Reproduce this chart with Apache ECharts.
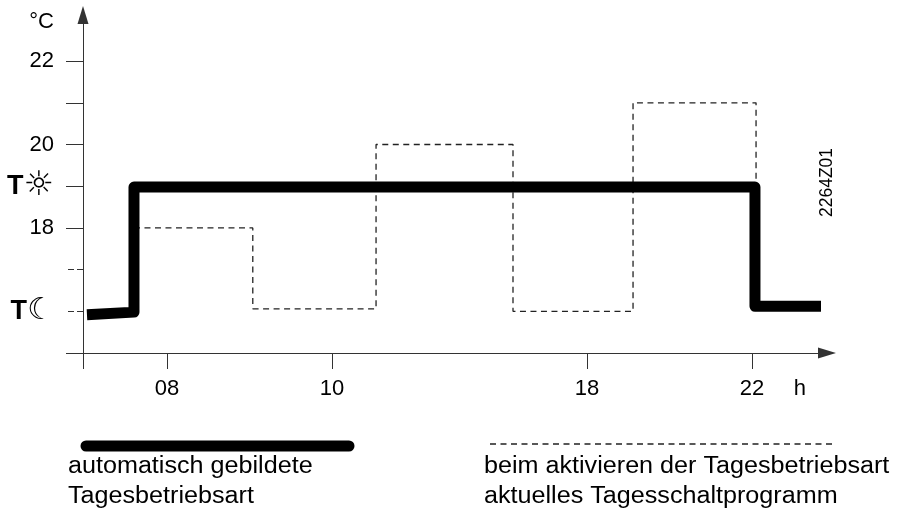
<!DOCTYPE html>
<html><head><meta charset="utf-8">
<style>html,body{margin:0;padding:0;background:#fff}#c{width:904px;height:511px}</style>
<script src="https://cdn.jsdelivr.net/npm/echarts@6/dist/echarts.min.js"></script>
</head><body><div id="c"></div>
<script>
// The time axis of the reference is schematic (08,10,18,22 are not evenly spaced),
// so x values are positions along that axis, in schematic units.
const xTickPos = [1.018, 3.018, 6.109, 8.109];
const xTickLabels = ['08', '10', '18', '22'];
const xUnitPos = 8.69;
const xUnitLabel = 'h';
const yTicksSolid = [22, 21, 20, 19, 18, 15];
const yTicksDashed = [17, 16];
const yLabelValues = [22, 20, 19, 18, 16];
const yLabelTexts = ['22', '20', '{t|T}{sun|☼}', '18', '{t|T}{moon|☾}'];
const autoX = [0.048, 0.618, 0.618, 8.145, 8.145, 8.945];
const autoY = [15.92, 15.98, 18.98, 18.98, 16.12, 16.12];
const progX = [0.618, 2.058, 2.058, 3.552, 3.552, 5.212, 5.212, 6.667, 6.667, 8.158, 8.158];
const progY = [18, 18, 16.06, 16.06, 20, 20, 16, 16, 21, 21, 19];
const legendAuto = 'automatisch gebildete\nTagesbetriebsart';
const legendProg = 'beim aktivieren der Tagesbetriebsart\naktuelles Tagesschaltprogramm';
const drawingCode = '2264Z01';

const font = '"Liberation Sans", Arial, sans-serif';
const yMin = 15, yMax = 23.105, xMax = 9.018;
const zip = (a, b) => a.map((v, i) => [v, b[i]]);
const chart = echarts.init(document.getElementById('c'), null, {renderer: 'canvas'});
chart.setOption({
  animation: false,
  backgroundColor: '#fff',
  grid: {left: 83, right: 77, top: 15, bottom: 158, containLabel: false},
  xAxis: {
    type: 'value', min: 0, max: xMax, splitLine: {show: false},
    axisLine: {show: true, onZero: false, lineStyle: {color: '#333', width: 1},
      symbol: ['none', 'triangle'], symbolSize: [11, 18]},
    axisTick: {show: true, length: 16, customValues: [0].concat(xTickPos), lineStyle: {color: '#333', width: 1}},
    axisLabel: {
      show: true, margin: 25, color: '#000', fontFamily: font, fontSize: 22, hideOverlap: false,
      customValues: xTickPos.concat([xUnitPos]),
      formatter: v => v === xUnitPos ? xUnitLabel : xTickLabels[xTickPos.indexOf(v)]
    }
  },
  yAxis: [{
    type: 'value', min: yMin, max: yMax, splitLine: {show: false},
    name: '°C', nameLocation: 'end', nameGap: -7,
    nameTextStyle: {color: '#000', fontFamily: font, fontSize: 22, align: 'right', verticalAlign: 'middle', padding: [0, 29, 0, 0]},
    axisLine: {show: true, onZero: false, lineStyle: {color: '#333', width: 1},
      symbol: ['none', 'triangle'], symbolSize: [11, 18]},
    axisTick: {show: true, length: 17, customValues: yTicksSolid, lineStyle: {color: '#333', width: 1}},
    axisLabel: {
      show: true, margin: 29, color: '#000', fontFamily: font, fontSize: 22, hideOverlap: false,
      customValues: yLabelValues,
      formatter: v => yLabelTexts[yLabelValues.indexOf(v)],
      rich: {
        t: {fontFamily: font, fontSize: 27, fontWeight: 'bold', color: '#000', verticalAlign: 'middle'},
        sun: {fontFamily: '"DejaVu Sans"', fontSize: 34, color: '#000', verticalAlign: 'middle'},
        moon: {fontFamily: '"DejaVu Sans"', fontSize: 30, color: '#000', verticalAlign: 'middle'}
      }
    }
  }, {
    type: 'value', position: 'left', min: yMin, max: yMax, splitLine: {show: false},
    axisLine: {show: false}, axisLabel: {show: false},
    axisTick: {show: true, length: 15, customValues: yTicksDashed,
      lineStyle: {color: '#333', width: 1.2, type: [6, 3]}}
  }],
  series: [{
    name: 'Tagesschaltprogramm', type: 'line', data: zip(progX, progY), symbol: 'none', z: 2,
    lineStyle: {color: '#222', width: 1.3, type: [6, 4.5]}
  }, {
    name: 'Tagesbetriebsart', type: 'line', data: zip(autoX, autoY), symbol: 'none', z: 3,
    lineStyle: {color: '#000', width: 11, cap: 'butt', join: 'round'}
  }],
  graphic: [
    {type: 'text', rotation: Math.PI / 2, x: 827, y: 217, style: {text: drawingCode, fill: '#000', font: '17.5px ' + font, textAlign: 'left', textVerticalAlign: 'middle'}},
    {type: 'line', shape: {x1: 86, y1: 446, x2: 349, y2: 446}, style: {stroke: '#000', lineWidth: 11, lineCap: 'round'}},
    {type: 'line', shape: {x1: 490, y1: 444, x2: 835, y2: 444}, style: {stroke: '#222', lineWidth: 1.3, lineDash: [6, 4.5]}},
    {type: 'text', x: 68, y: 452, scaleX: 1.07, style: {text: legendAuto, fill: '#000', font: '23.5px ' + font, lineHeight: 30}},
    {type: 'text', x: 484, y: 452, scaleX: 1.07, style: {text: legendProg, fill: '#000', font: '23.5px ' + font, lineHeight: 30}}
  ]
});
</script></body></html>
